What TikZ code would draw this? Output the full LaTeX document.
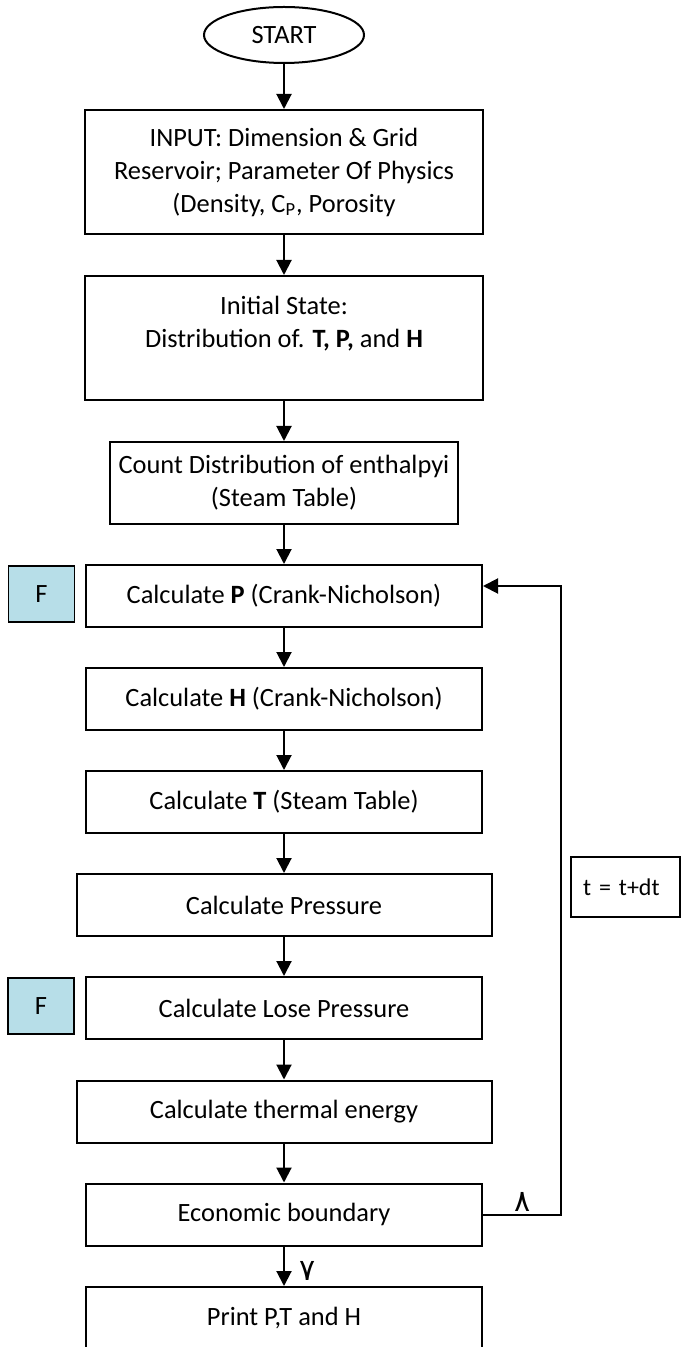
\documentclass[tikz,border=0pt]{standalone}
\usepackage{fontspec}
\setmainfont{Carlito}
\newfontfamily\arabicfont[Script=Arabic]{DejaVu Sans}
\usepackage{tikz}
\usetikzlibrary{arrows.meta,positioning,shapes.geometric}
\definecolor{flowInk}{HTML}{000000}
\definecolor{flowAqua}{HTML}{B7DEE8}

\begin{document}
\begin{tikzpicture}[
  x=0.5pt,y=-0.5pt,
  font=\fontsize{13.2}{16.5}\selectfont,
  box/.style={draw=flowInk,line width=1pt,minimum width=198pt,minimum height=31pt,align=center,inner sep=0pt},
  widebox/.style={box,minimum width=207.5pt},
  flagbox/.style={draw=flowInk,line width=0.9pt,fill=flowAqua,minimum width=33pt,minimum height=28pt,inner sep=0pt},
  digit/.style={font=\arabicfont\fontsize{15}{18}\selectfont,inner sep=0pt},
  arr/.style={-{Triangle[length=7.5pt,width=7.5pt]},line width=1pt,flowInk}
]
\useasboundingbox (0,0) rectangle (682,1347);
\clip (0,0) rectangle (682,1347);

% main column
\node[ellipse,draw=flowInk,line width=1pt,minimum width=80pt,minimum height=28pt,inner sep=0pt] (start) at (284,35) {START};
\node[box,minimum width=199pt,minimum height=62pt] (input) at (284,172)
  {INPUT: Dimension \& Grid\\Reservoir; Parameter Of Physics\\(Density, C\textsubscript{P}, Porosity};
\node[box,minimum width=199pt,minimum height=62pt] (init) at (284,338)
  {Initial State:\\Distribution of. \textbf{T, P,} and \textbf{H}\\\mbox{}};
\node[box,minimum width=174pt,minimum height=41pt] (count) at (284,483)
  {Count Distribution of enthalpyi\\(Steam Table)};
\node[box] (calcp) at (284,596) {Calculate \textbf{P} (Crank-Nicholson)};
\node[box] (calch) at (284,699) {Calculate \textbf{H} (Crank-Nicholson)};
\node[box] (calct) at (284,802) {Calculate \textbf{T} (Steam Table)};
\node[widebox] (press) at (284,905) {Calculate Pressure};
\node[box] (lose) at (284,1008) {Calculate Lose Pressure};
\node[widebox] (therm) at (284,1111.5) {Calculate thermal energy};
\node[box] (econ) at (284,1214.5) {Economic boundary};
\node[box] (print) at (284,1318) {Print P,T and H};

% side boxes
\node[flagbox] (flagp) at (41.5,594) {F};
\node[flagbox] (flagl) at (41,1006) {F};
\node[draw=flowInk,line width=1pt,minimum height=30pt,text width=42.5pt,inner xsep=6pt,align=left,font=\fontsize{12}{14}\selectfont] (tstep) at (625.5,887) {t = t+dt};

\draw[arr] (start) -- (input);
\draw[arr] (input) -- (init);
\draw[arr] (init) -- (count);
\draw[arr] (count) -- (calcp);
\draw[arr] (calcp) -- (calch);
\draw[arr] (calch) -- (calct);
\draw[arr] (calct) -- (press);
\draw[arr] (press) -- (lose);
\draw[arr] (lose) -- (therm);
\draw[arr] (therm) -- (econ);
\draw[arr] (econ) -- (print);
% loop back
\draw[arr] (econ.east) -- ++(39pt,0) |- ([yshift=5pt]calcp.east);

\node[digit] (nolabel) at (523,1202) {٨};
\node[digit] (yeslabel) at (308,1271) {٧};
\end{tikzpicture}
\end{document}
